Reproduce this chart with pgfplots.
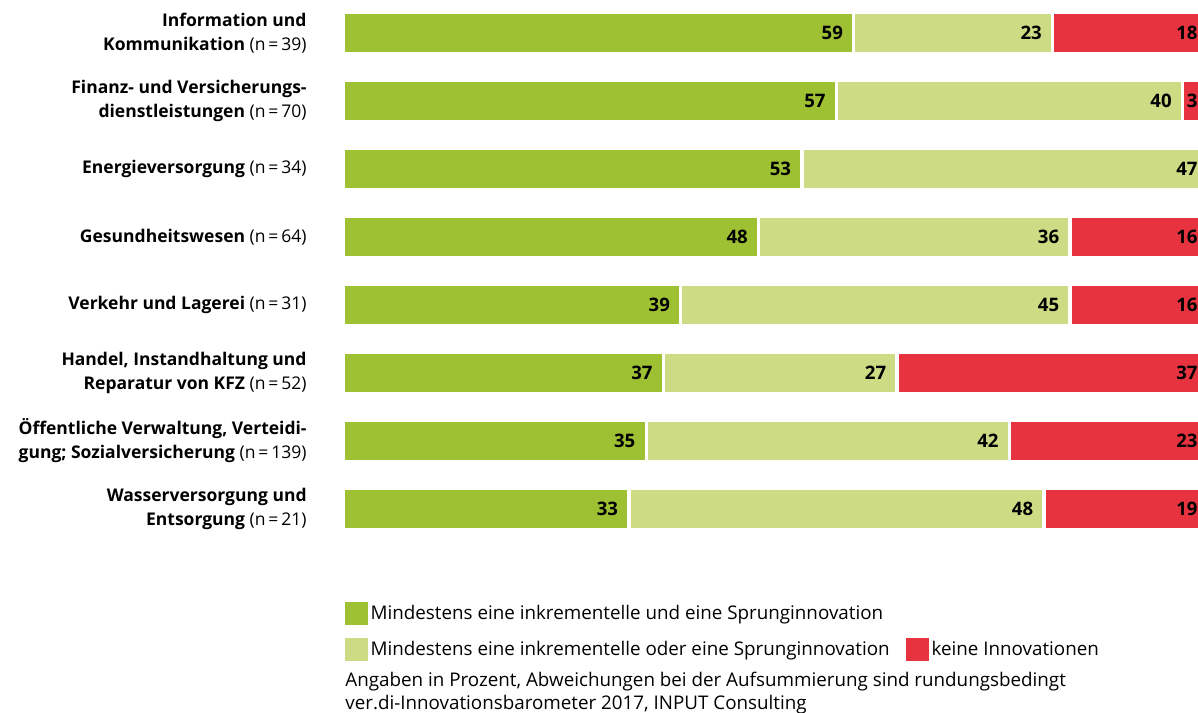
\documentclass[border=0pt]{standalone}
\usepackage{fontspec}
\setmainfont{Open Sans}
\usepackage{pgfplots}
\pgfplotsset{compat=1.18}
\definecolor{cA}{RGB}{158,193,52}
\definecolor{cB}{RGB}{204,219,132}
\definecolor{cC}{RGB}{230,51,63}
\begin{document}
\begin{tikzpicture}
\begin{axis}[
  at={(171.7pt,-271.5pt)}, anchor=south west,
  scale only axis, width=432.5pt, height=272pt,
  xbar, bar width=20.6pt, bar shift=0pt,
  xmin=0, xmax=100, ymin=0.5, ymax=8.5, y dir=reverse,
  clip=false,
  axis line style={draw=none},
  xtick=\empty, ytick={1,...,8}, major tick length=0pt,
  yticklabels={
    {\textbf{Information und}\\\textbf{Kommunikation} (n\,=\,39)},
    {\textbf{Finanz- und Versicherungs-}\\\textbf{dienstleistungen} (n\,=\,70)},
    {\textbf{Energieversorgung} (n\,=\,34)},
    {\textbf{Gesundheitswesen} (n\,=\,64)},
    {\textbf{Verkehr und Lagerei} (n\,=\,31)},
    {\textbf{Handel, Instandhaltung und}\\\textbf{Reparatur von KFZ} (n\,=\,52)},
    {\textbf{Öffentliche Verwaltung, Verteidi-}\\\textbf{gung; Sozialversicherung} (n\,=\,139)},
    {\textbf{Wasserversorgung und}\\\textbf{Entsorgung} (n\,=\,21)}},
  yticklabel style={anchor=east, align=right, inner sep=0pt, xshift=-18.2pt,
    font=\fontsize{8.75}{12}\selectfont},
  every axis plot/.append style={draw=white, line width=1.65pt},
  point meta=explicit symbolic,
  nodes near coords={\pgfplotspointmeta},
  nodes near coords style={anchor=east, inner sep=0pt, xshift=-4.6pt, text=black,
    font=\bfseries\fontsize{9.3}{10}\selectfont},
  legend columns=2, legend cell align=left,
  legend image code/.code={\fill[#1, draw=none] (0pt,-5.75pt) rectangle (11.5pt,5.75pt);},
  legend style={at={(0.002,-0.109)}, anchor=north west,
    draw=none, fill=none, inner sep=0pt, outer sep=0pt,
    font=\fontsize{9.4}{10}\selectfont, row sep=6.5pt,
    /tikz/every even column/.append style={column sep=7pt},
    nodes={inner sep=1.25pt}},
]
% cumulative totals: red = first + second + third segment
\addplot[fill=cC, forget plot] coordinates {(100,1)[18] (100,2)[3] (100,4)[16] (100,5)[16] (100,6)[37] (100,7)[23] (100,8)[19]};
% cumulative: first + second segment
\addplot[fill=cB, forget plot] coordinates {(82,1)[23] (97,2)[40] (100,3)[47] (84,4)[36] (84,5)[45] (64,6)[27] (77,7)[42] (81,8)[48]};
% first segment
\addplot[fill=cA, forget plot] coordinates {(59,1)[59] (57,2)[57] (53,3)[53] (48,4)[48] (39,5)[39] (37,6)[37] (35,7)[35] (33,8)[33]};
\addlegendimage{fill=cA}
\addlegendentry{Mindestens eine inkrementelle und eine Sprunginnovation}
\addlegendimage{empty legend}
\addlegendentry{}
\addlegendimage{fill=cB}
\addlegendentry{Mindestens eine inkrementelle oder eine Sprunginnovation}
\addlegendimage{fill=cC}
\addlegendentry{keine Innovationen}
\end{axis}
\node[anchor=base west, inner sep=0pt, font=\fontsize{9.4}{10}\selectfont] at (172.5pt,-343pt) {Angaben in Prozent, Abweichungen bei der Aufsummierung sind rundungsbedingt};
\node[anchor=base west, inner sep=0pt, font=\fontsize{9.4}{10}\selectfont] at (172.5pt,-354.5pt) {ver.di-Innovationsbarometer 2017, INPUT Consulting};
\pgfresetboundingbox
\useasboundingbox (0,0) rectangle (599pt,-356pt);
\end{tikzpicture}
\end{document}
